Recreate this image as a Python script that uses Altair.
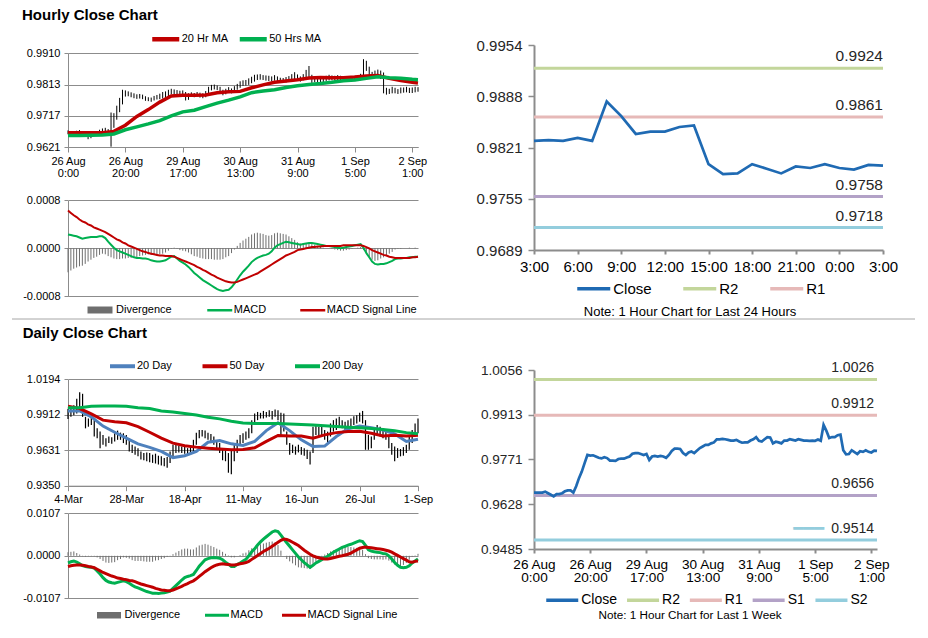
import json
import pandas as pd
import altair as alt

# ---------------- tick labels ----------------
hour_tick_values = [0, 20, 40, 60, 80, 100, 120]
hour_tick_labels = ["26 Aug|0:00", "26 Aug|20:00", "29 Aug|17:00", "30 Aug|13:00",
                    "31 Aug|9:00", "1 Sep|5:00", "2 Sep|1:00"]
last24_tick_values = [0, 3, 6, 9, 12, 15, 18, 21, 24]
last24_tick_labels = ["3:00", "6:00", "9:00", "12:00", "15:00", "18:00", "21:00", "0:00", "3:00"]
day_tick_values = [0, 20, 40, 60, 80, 100, 120]
day_tick_labels = ["4-Mar", "28-Mar", "18-Apr", "11-May", "16-Jun", "26-Jul", "1-Sep"]

hour_price_ticks = [0.9621, 0.9717, 0.9813, 0.9910]
hour_macd_ticks = [-0.0008, 0.0, 0.0008]
last24_ticks = [0.9689, 0.9755, 0.9821, 0.9888, 0.9954]
week_ticks = [0.9485, 0.9628, 0.9771, 0.9913, 1.0056]
day_price_ticks = [0.9350, 0.9631, 0.9912, 1.0194]
day_macd_ticks = [-0.0107, 0.0, 0.0107]

# ---------------- hourly data (26 Aug 0:00 .. 2 Sep 3:00) ----------------
hour_close = [
    0.9665, 0.9665, 0.9665, 0.9665, 0.9668, 0.9663, 0.9658, 0.9653, 0.9660, 0.9660,
    0.9663, 0.9669, 0.9672, 0.9672, 0.9665, 0.9685, 0.9711, 0.9732, 0.9759, 0.9785,
    0.9783, 0.9784, 0.9780, 0.9776, 0.9774, 0.9778, 0.9775, 0.9767, 0.9767, 0.9766,
    0.9772, 0.9773, 0.9773, 0.9777, 0.9780, 0.9789, 0.9791, 0.9791, 0.9788, 0.9785,
    0.9788, 0.9769, 0.9780, 0.9782, 0.9780, 0.9782, 0.9780, 0.9776, 0.9785, 0.9798,
    0.9805, 0.9805, 0.9804, 0.9791, 0.9785, 0.9793, 0.9796, 0.9791, 0.9799, 0.9807,
    0.9812, 0.9817, 0.9817, 0.9822, 0.9825, 0.9835, 0.9835, 0.9836, 0.9835, 0.9833,
    0.9831, 0.9831, 0.9833, 0.9828, 0.9824, 0.9825, 0.9825, 0.9831, 0.9835, 0.9842,
    0.9830, 0.9828, 0.9835, 0.9842, 0.9841, 0.9822, 0.9827, 0.9825, 0.9822, 0.9831,
    0.9831, 0.9835, 0.9833, 0.9831, 0.9835, 0.9833, 0.9831, 0.9831, 0.9830, 0.9831,
    0.9830, 0.9834, 0.9830, 0.9881, 0.9862, 0.9839, 0.9842, 0.9842, 0.9848, 0.9850,
    0.9800, 0.9787, 0.9788, 0.9800, 0.9794, 0.9788, 0.9797, 0.9795, 0.9800, 0.9795,
    0.9793, 0.9799, 0.9798,
]
hour_high = [
    0.9672, 0.9670, 0.9669, 0.9671, 0.9673, 0.9669, 0.9665, 0.9661, 0.9664, 0.9666,
    0.9668, 0.9674, 0.9678, 0.9680, 0.9676, 0.9727, 0.9725, 0.9748, 0.9772, 0.9797,
    0.9795, 0.9792, 0.9789, 0.9786, 0.9783, 0.9784, 0.9782, 0.9777, 0.9774, 0.9773,
    0.9778, 0.9781, 0.9785, 0.9790, 0.9792, 0.9797, 0.9800, 0.9798, 0.9796, 0.9794,
    0.9795, 0.9790, 0.9786, 0.9789, 0.9787, 0.9790, 0.9788, 0.9786, 0.9793, 0.9806,
    0.9812, 0.9813, 0.9810, 0.9806, 0.9797, 0.9800, 0.9805, 0.9801, 0.9808, 0.9815,
    0.9823, 0.9826, 0.9827, 0.9832, 0.9837, 0.9843, 0.9844, 0.9845, 0.9842, 0.9841,
    0.9840, 0.9838, 0.9842, 0.9838, 0.9834, 0.9833, 0.9836, 0.9839, 0.9845, 0.9851,
    0.9844, 0.9838, 0.9845, 0.9858, 0.9870, 0.9843, 0.9836, 0.9834, 0.9831, 0.9839,
    0.9840, 0.9843, 0.9841, 0.9840, 0.9842, 0.9840, 0.9839, 0.9838, 0.9838, 0.9839,
    0.9840, 0.9841, 0.9846, 0.9891, 0.9886, 0.9868, 0.9852, 0.9856, 0.9859, 0.9856,
    0.9850, 0.9803, 0.9800, 0.9806, 0.9803, 0.9799, 0.9804, 0.9804, 0.9806, 0.9803,
    0.9804, 0.9806, 0.9805,
]
hour_low = [
    0.9660, 0.9658, 0.9661, 0.9660, 0.9662, 0.9657, 0.9652, 0.9645, 0.9648, 0.9654,
    0.9657, 0.9661, 0.9665, 0.9664, 0.9658, 0.9622, 0.9680, 0.9705, 0.9728, 0.9752,
    0.9776, 0.9777, 0.9774, 0.9771, 0.9769, 0.9770, 0.9768, 0.9763, 0.9762, 0.9760,
    0.9764, 0.9767, 0.9768, 0.9770, 0.9772, 0.9776, 0.9783, 0.9782, 0.9779, 0.9777,
    0.9780, 0.9764, 0.9766, 0.9775, 0.9774, 0.9776, 0.9773, 0.9771, 0.9774, 0.9783,
    0.9795, 0.9798, 0.9796, 0.9787, 0.9780, 0.9783, 0.9789, 0.9786, 0.9789, 0.9797,
    0.9803, 0.9809, 0.9810, 0.9812, 0.9817, 0.9822, 0.9827, 0.9828, 0.9827, 0.9825,
    0.9824, 0.9823, 0.9825, 0.9822, 0.9818, 0.9819, 0.9819, 0.9822, 0.9827, 0.9830,
    0.9825, 0.9822, 0.9826, 0.9832, 0.9834, 0.9818, 0.9820, 0.9819, 0.9816, 0.9820,
    0.9824, 0.9826, 0.9826, 0.9825, 0.9827, 0.9826, 0.9825, 0.9824, 0.9823, 0.9824,
    0.9824, 0.9826, 0.9826, 0.9829, 0.9855, 0.9835, 0.9834, 0.9835, 0.9838, 0.9830,
    0.9786, 0.9782, 0.9784, 0.9786, 0.9786, 0.9784, 0.9786, 0.9788, 0.9789, 0.9787,
    0.9787, 0.9789, 0.9791,
]
hour_macd = [
    0.00023, 0.00022, 0.00021, 0.00020, 0.00018, 0.00016, 0.00017, 0.00018, 0.00019, 0.00019,
    0.00019, 0.00020, 0.00020, 0.00017, 0.00011, 0.00006, 0.00001, -0.00003, -0.00005, -0.00007,
    -0.00009, -0.00011, -0.00013, -0.00015, -0.00016, -0.00016, -0.00017, -0.00017, -0.00018, -0.00020,
    -0.00021, -0.00022, -0.00022, -0.00021, -0.00020, -0.00017, -0.00014, -0.00013, -0.00017, -0.00021,
    -0.00024, -0.00027, -0.00031, -0.00036, -0.00041, -0.00045, -0.00049, -0.00053, -0.00056, -0.00059,
    -0.00062, -0.00065, -0.00068, -0.00070, -0.00071, -0.00070, -0.00069, -0.00065, -0.00059, -0.00052,
    -0.00045, -0.00039, -0.00034, -0.00029, -0.00023, -0.00019, -0.00016, -0.00014, -0.00012, -0.00011,
    -0.00009, -0.00005, 0.00001, 0.00005, 0.00007, 0.00009, 0.00011, 0.00010, 0.00009, 0.00008,
    0.00007, 0.00006, 0.00007, 0.00008, 0.00009, 0.00009, 0.00008, 0.00007, 0.00006, 0.00005,
    0.00004, 0.00004, 0.00003, 0.00002, 0.00001, 0.00000, 0.00001, 0.00002, 0.00003, 0.00004,
    0.00005, 0.00006, 0.00007, 0.00001, -0.00008, -0.00015, -0.00022, -0.00026, -0.00027, -0.00026,
    -0.00026, -0.00025, -0.00023, -0.00021, -0.00018, -0.00017, -0.00017, -0.00016, -0.00016, -0.00015,
    -0.00015, -0.00014, -0.00014,
]
hour_signal = [
    0.00063, 0.00059, 0.00055, 0.00052, 0.00048, 0.00045, 0.00043, 0.00040, 0.00038, 0.00035,
    0.00033, 0.00031, 0.00029, 0.00027, 0.00024, 0.00021, 0.00018, 0.00015, 0.00013, 0.00010,
    0.00008, 0.00005, 0.00003, 0.00001, -0.00001, -0.00003, -0.00005, -0.00006, -0.00008, -0.00009,
    -0.00010, -0.00011, -0.00012, -0.00012, -0.00013, -0.00013, -0.00013, -0.00014, -0.00016, -0.00018,
    -0.00020, -0.00022, -0.00024, -0.00026, -0.00028, -0.00031, -0.00033, -0.00036, -0.00038, -0.00041,
    -0.00044, -0.00046, -0.00049, -0.00051, -0.00053, -0.00055, -0.00056, -0.00057, -0.00057, -0.00056,
    -0.00054, -0.00052, -0.00050, -0.00048, -0.00046, -0.00044, -0.00042, -0.00039, -0.00036, -0.00033,
    -0.00030, -0.00027, -0.00024, -0.00021, -0.00018, -0.00015, -0.00012, -0.00010, -0.00008, -0.00006,
    -0.00003, -0.00002, -0.00001, 0.00000, 0.00001, 0.00002, 0.00002, 0.00003, 0.00003, 0.00004,
    0.00004, 0.00004, 0.00004, 0.00004, 0.00004, 0.00004, 0.00005, 0.00005, 0.00005, 0.00005,
    0.00005, 0.00005, 0.00005, 0.00004, 0.00002, 0.00000, -0.00003, -0.00005, -0.00007, -0.00009,
    -0.00011, -0.00012, -0.00014, -0.00015, -0.00016, -0.00016, -0.00016, -0.00016, -0.00016, -0.00016,
    -0.00015, -0.00015, -0.00014,
]
hour_ma_idx = [0, 4, 8, 12, 16, 20, 24, 28, 32, 36, 40, 44, 48, 52, 56, 60,
               64, 68, 72, 76, 80, 84, 88, 92, 96, 100, 104, 108, 112, 116, 120, 122]
hour_ma20 = [0.9665, 0.9665, 0.9665, 0.9665, 0.9669, 0.9688, 0.9715, 0.9736, 0.9759, 0.9778,
             0.9780, 0.9780, 0.9781, 0.9788, 0.9791, 0.9792, 0.9803, 0.9812, 0.9820, 0.9824,
             0.9828, 0.9833, 0.9835, 0.9834, 0.9834, 0.9836, 0.9839, 0.9841, 0.9832, 0.9825,
             0.9820, 0.9818]
hour_ma50 = [0.9656, 0.9656, 0.9657, 0.9658, 0.9661, 0.9674, 0.9683, 0.9692, 0.9702, 0.9717,
             0.9729, 0.9734, 0.9745, 0.9756, 0.9765, 0.9775, 0.9788, 0.9793, 0.9797, 0.9804,
             0.9809, 0.9813, 0.9816, 0.9820, 0.9825, 0.9827, 0.9832, 0.9837, 0.9834, 0.9832,
             0.9829, 0.9828]

level_names = ["R2", "R1", "S1", "S2"]
levels_24h = [0.9924, 0.9861, 0.9758, 0.9718]
levels_week = [1.0026, 0.9912, 0.9656, 0.9514]

# ---------------- daily data (4-Mar .. 1-Sep) ----------------
day_high = [
    0.9960, 0.9975, 0.9988, 1.0040, 1.0092, 1.0079, 0.9896, 0.9883, 0.9896, 0.9870,
    0.9805, 0.9779, 0.9753, 0.9727, 0.9740, 0.9735, 0.9766, 0.9787, 0.9771, 0.9766,
    0.9753, 0.9727, 0.9675, 0.9661, 0.9648, 0.9622, 0.9609, 0.9614, 0.9609, 0.9596,
    0.9604, 0.9588, 0.9583, 0.9570, 0.9578, 0.9622, 0.9675, 0.9675, 0.9667, 0.9661,
    0.9656, 0.9648, 0.9661, 0.9714, 0.9771, 0.9792, 0.9792, 0.9787, 0.9771, 0.9761,
    0.9740, 0.9701, 0.9688, 0.9648, 0.9630, 0.9609, 0.9635, 0.9675, 0.9714, 0.9753,
    0.9766, 0.9779, 0.9805, 0.9870, 0.9922, 0.9935, 0.9928, 0.9943, 0.9935, 0.9949,
    0.9943, 0.9954, 0.9949, 0.9928, 0.9922, 0.9779, 0.9688, 0.9675, 0.9661, 0.9675,
    0.9656, 0.9648, 0.9635, 0.9622, 0.9818, 0.9831, 0.9818, 0.9823, 0.9792, 0.9779,
    0.9844, 0.9870, 0.9883, 0.9896, 0.9870, 0.9857, 0.9870, 0.9883, 0.9901, 0.9909,
    0.9928, 0.9943, 0.9870, 0.9753, 0.9740, 0.9805, 0.9831, 0.9818, 0.9805, 0.9792,
    0.9753, 0.9688, 0.9661, 0.9648, 0.9641, 0.9656, 0.9675, 0.9753, 0.9792, 0.9844,
    0.9883,
]
day_low = [
    0.9880, 0.9896, 0.9909, 0.9922, 0.9935, 0.9896, 0.9805, 0.9818, 0.9831, 0.9740,
    0.9727, 0.9648, 0.9675, 0.9661, 0.9688, 0.9682, 0.9701, 0.9714, 0.9714, 0.9688,
    0.9675, 0.9622, 0.9609, 0.9596, 0.9583, 0.9557, 0.9552, 0.9544, 0.9536, 0.9531,
    0.9526, 0.9518, 0.9510, 0.9505, 0.9492, 0.9531, 0.9570, 0.9609, 0.9614, 0.9609,
    0.9604, 0.9596, 0.9609, 0.9622, 0.9675, 0.9727, 0.9740, 0.9727, 0.9714, 0.9701,
    0.9675, 0.9641, 0.9609, 0.9552, 0.9544, 0.9453, 0.9440, 0.9544, 0.9609, 0.9675,
    0.9688, 0.9714, 0.9727, 0.9766, 0.9844, 0.9870, 0.9883, 0.9883, 0.9891, 0.9896,
    0.9875, 0.9896, 0.9870, 0.9740, 0.9779, 0.9675, 0.9596, 0.9609, 0.9596, 0.9614,
    0.9596, 0.9588, 0.9562, 0.9518, 0.9609, 0.9753, 0.9740, 0.9753, 0.9714, 0.9688,
    0.9740, 0.9779, 0.9792, 0.9818, 0.9805, 0.9792, 0.9805, 0.9818, 0.9831, 0.9844,
    0.9857, 0.9844, 0.9635, 0.9635, 0.9648, 0.9714, 0.9753, 0.9740, 0.9727, 0.9714,
    0.9648, 0.9596, 0.9544, 0.9570, 0.9583, 0.9588, 0.9609, 0.9635, 0.9688, 0.9740,
    0.9766,
]
day_macd = [
    -0.0018, -0.0015, -0.0013, -0.0016, -0.0020, -0.0025, -0.0027, -0.0028, -0.0029, -0.0031,
    -0.0038, -0.0046, -0.0055, -0.0062, -0.0066, -0.0068, -0.0069, -0.0067, -0.0065, -0.0063,
    -0.0065, -0.0069, -0.0074, -0.0078, -0.0081, -0.0084, -0.0087, -0.0090, -0.0092, -0.0094,
    -0.0094, -0.0095, -0.0094, -0.0093, -0.0091, -0.0089, -0.0082, -0.0075, -0.0068, -0.0061,
    -0.0055, -0.0052, -0.0050, -0.0047, -0.0037, -0.0026, -0.0018, -0.0010, -0.0007, -0.0005,
    -0.0004, -0.0005, -0.0006, -0.0010, -0.0016, -0.0021, -0.0027, -0.0027, -0.0022, -0.0018,
    -0.0013, -0.0009, 0.0000, 0.0010, 0.0018, 0.0027, 0.0035, 0.0042, 0.0048, 0.0054,
    0.0060, 0.0063, 0.0061, 0.0052, 0.0042, 0.0033, 0.0024, 0.0015, 0.0006, -0.0003,
    -0.0010, -0.0017, -0.0023, -0.0029, -0.0024, -0.0018, -0.0014, -0.0010, -0.0005, -0.0001,
    0.0004, 0.0009, 0.0013, 0.0017, 0.0021, 0.0024, 0.0027, 0.0029, 0.0032, 0.0035,
    0.0038, 0.0036, 0.0026, 0.0015, 0.0012, 0.0010, 0.0009, 0.0008, 0.0006, 0.0005,
    0.0000, -0.0008, -0.0017, -0.0024, -0.0029, -0.0030, -0.0029, -0.0025, -0.0018, -0.0013,
    -0.0008,
]
day_signal = [
    -0.0027, -0.0025, -0.0024, -0.0023, -0.0023, -0.0024, -0.0025, -0.0027, -0.0028, -0.0030,
    -0.0034, -0.0038, -0.0042, -0.0045, -0.0048, -0.0051, -0.0053, -0.0056, -0.0057, -0.0059,
    -0.0060, -0.0062, -0.0063, -0.0065, -0.0068, -0.0071, -0.0073, -0.0075, -0.0077, -0.0079,
    -0.0082, -0.0084, -0.0086, -0.0087, -0.0088, -0.0088, -0.0086, -0.0083, -0.0080, -0.0077,
    -0.0073, -0.0070, -0.0066, -0.0063, -0.0058, -0.0052, -0.0046, -0.0040, -0.0035, -0.0030,
    -0.0026, -0.0023, -0.0021, -0.0020, -0.0021, -0.0022, -0.0023, -0.0023, -0.0022, -0.0020,
    -0.0019, -0.0017, -0.0014, -0.0009, -0.0004, 0.0001, 0.0006, 0.0011, 0.0015, 0.0019,
    0.0024, 0.0029, 0.0034, 0.0039, 0.0042, 0.0041, 0.0038, 0.0034, 0.0030, 0.0026,
    0.0020, 0.0014, 0.0009, 0.0004, 0.0000, -0.0003, -0.0005, -0.0007, -0.0008, -0.0008,
    -0.0007, -0.0005, -0.0003, -0.0001, 0.0000, 0.0002, 0.0004, 0.0007, 0.0011, 0.0015,
    0.0019, 0.0021, 0.0022, 0.0021, 0.0020, 0.0019, 0.0018, 0.0017, 0.0016, 0.0014,
    0.0012, 0.0009, 0.0005, 0.0001, -0.0003, -0.0007, -0.0011, -0.0015, -0.0016, -0.0014,
    -0.0013,
]
day_ma_idx = [0, 4, 8, 12, 16, 20, 24, 28, 32, 36, 40, 44, 48, 52, 56, 60,
              64, 68, 72, 76, 80, 84, 88, 92, 96, 100, 104, 108, 112, 116, 120]
day_ma20 = [0.9943, 0.9943, 0.9896, 0.9823, 0.9774, 0.9727, 0.9682, 0.9654, 0.9622, 0.9573,
            0.9588, 0.9622, 0.9695, 0.9708, 0.9682, 0.9669, 0.9701, 0.9787, 0.9849, 0.9787,
            0.9714, 0.9661, 0.9664, 0.9740, 0.9802, 0.9823, 0.9810, 0.9792, 0.9761, 0.9701,
            0.9719]
day_ma50 = [0.9980, 0.9962, 0.9920, 0.9870, 0.9857, 0.9849, 0.9818, 0.9774, 0.9727, 0.9688,
            0.9667, 0.9656, 0.9648, 0.9641, 0.9635, 0.9638, 0.9651, 0.9701, 0.9748, 0.9745,
            0.9745, 0.9727, 0.9753, 0.9771, 0.9779, 0.9781, 0.9766, 0.9745, 0.9750, 0.9745,
            0.9750]
day_ma200 = [0.9969, 0.9969, 0.9980, 0.9982, 0.9982, 0.9980, 0.9969, 0.9962, 0.9943, 0.9935,
             0.9922, 0.9911, 0.9893, 0.9880, 0.9862, 0.9848, 0.9844, 0.9844, 0.9844, 0.9840,
             0.9836, 0.9831, 0.9826, 0.9820, 0.9814, 0.9810, 0.9803, 0.9795, 0.9785, 0.9771,
             0.9763]

# ---------------- styles ----------------
FONT = "Liberation Sans"
TXT = "#000000"
TXT2 = "#262626"
AX = "#8C8C8C"
RED = "#C00000"
GREEN = "#00B050"
BLUE20 = "#4F81BD"
CLOSE = "#1F6AB3"
R2C, R1C, S1C, S2C = "#C3D69B", "#E6B9B8", "#B3A2C7", "#93CDDD"
DIVC = "#6E6E6E"
SEP = "#A6A6A6"

W, H = 912, 616   # one canvas; every panel gets its own scales with explicit pixel ranges


def lab_expr(labels, step, multiline):
    e = "%s[round(datum.value / %d)]" % (json.dumps(labels), step)
    return "split(%s, '|')" % e if multiline else e


def sc(domain, r0, r1):
    return alt.Scale(domain=domain, range=[r0, r1], nice=False, zero=False)


def xaxis(values, expr, fs, lh, tick, pad, dw, at_y):
    return alt.Axis(values=values, labelExpr=expr, title=None, grid=False, orient="bottom",
                    offset=at_y - H, domainColor=AX, domainWidth=dw, tickColor=AX, tickWidth=dw,
                    tickSize=tick, labelPadding=pad, labelFont=FONT, labelFontSize=fs,
                    labelColor=TXT, labelLineHeight=lh, labelFlush=False, labelOverlap=False,
                    labelAngle=0)


def yaxis_left(values, at_x, minus=False):
    kw = dict(values=values, format=".4f", title=None, grid=True, gridColor=AX, gridWidth=1,
              orient="left", offset=-at_x, domainColor=AX, domainWidth=1, tickColor=AX,
              tickSize=4, labelPadding=4, labelFont=FONT, labelFontSize=11, labelColor=TXT,
              labelFlush=False, labelOverlap=False)
    if minus:
        kw["labelExpr"] = "replace(datum.label, '\u2212', '-')"
    return alt.Axis(**kw)


def yaxis_right(values, fs, at_x):
    return alt.Axis(values=values, format=".4f", title=None, grid=False, orient="left",
                    offset=-at_x, domainColor=AX, domainWidth=2, tickColor=AX, tickWidth=1.5,
                    tickSize=6, labelPadding=6, labelFont=FONT, labelFontSize=fs,
                    labelColor=TXT2, labelFlush=False, labelOverlap=False)


def leg(x_vis, cy, sym_w, sw, fs, offset, colpad, values=None):
    # x_vis: where the visible key line starts; the key slot is sym_w + sw wide
    kw = dict(orient="none", legendX=x_vis - sw / 2.0, legendY=cy - max(sym_w + sw, fs) / 2.0,
              direction="horizontal", title=None, symbolType="stroke",
              symbolSize=sym_w * sym_w, symbolStrokeWidth=sw, labelFont=FONT,
              labelFontSize=fs, labelColor=TXT, labelOffset=offset, columnPadding=colpad,
              padding=0)
    if values is not None:
        kw["values"] = values
    return alt.Legend(**kw)


def text_layer(txt, x, y, size, bold=False, align="left", baseline="alphabetic"):
    return alt.Chart(alt.Data(values=[{"t": txt}])).mark_text(
        font=FONT, fontSize=size, fontWeight="bold" if bold else "normal",
        align=align, baseline=baseline, color=TXT
    ).encode(x=alt.value(x), y=alt.value(y), text="t:N")


def sep_layer(x1, x2, y):
    return alt.Chart(alt.Data(values=[{"a": 1}])).mark_rule(color=SEP, strokeWidth=1).encode(
        x=alt.value(x1), x2=alt.value(x2), y=alt.value(y))


# ---------------- frames ----------------
NH = len(hour_close)
ND = len(day_high)
hdf = pd.DataFrame({"h": list(range(NH)), "close": hour_close, "high": hour_high,
                    "low": hour_low, "macd": hour_macd, "signal": hour_signal})
hma = pd.DataFrame({"h": hour_ma_idx * 2, "value": hour_ma20 + hour_ma50,
                    "series": ["20 Hr MA"] * len(hour_ma_idx) + ["50 Hrs MA"] * len(hour_ma_idx)})
hmacd = pd.DataFrame({"h": list(range(NH)) * 2, "value": hour_macd + hour_signal,
                      "series": ["MACD"] * NH + ["MACD Signal Line"] * NH})
ddf = pd.DataFrame({"i": list(range(ND)), "high": day_high, "low": day_low,
                    "macd": day_macd, "signal": day_signal})
dma = pd.DataFrame({"i": day_ma_idx * 3, "value": day_ma20 + day_ma50 + day_ma200,
                    "series": ["20 Day"] * len(day_ma_idx) + ["50 Day"] * len(day_ma_idx)
                    + ["200 Day"] * len(day_ma_idx)})
dmacd = pd.DataFrame({"i": list(range(ND)) * 2, "value": day_macd + day_signal,
                      "series": ["MACD"] * ND + ["MACD Signal Line"] * ND})
last24 = pd.DataFrame({"t": list(range(25)), "close": hour_close[-25:], "series": "Close"})
week = pd.DataFrame({"h": list(range(NH)), "close": hour_close, "series": "Close"})
lv24 = pd.DataFrame({"name": level_names, "value": levels_24h})
lvwk = pd.DataFrame({"name": level_names, "value": levels_week})

layers = []

# ---------------- hourly price (plot x 60-410, y 45-139) ----------------
xs_hp = sc([0, NH - 1], 60, 410)
ys_hp = sc([hour_price_ticks[0], hour_price_ticks[-1]], 139, 45)
layers.append(alt.Chart(hdf).mark_rule(color="black", strokeWidth=1).encode(
    x=alt.X("h:Q", scale=xs_hp,
            axis=xaxis(hour_tick_values, lab_expr(hour_tick_labels, 20, True), 11, 12, 5, 3, 1, 139)),
    y=alt.Y("low:Q", scale=ys_hp, axis=yaxis_left(hour_price_ticks, 60)),
    y2=alt.Y2("high")))
layers.append(alt.Chart(hma).mark_line(strokeWidth=3.5).encode(
    x=alt.X("h:Q", scale=xs_hp, axis=None),
    y=alt.Y("value:Q", scale=ys_hp, axis=None),
    color=alt.Color("series:N", scale=alt.Scale(domain=["20 Hr MA", "50 Hrs MA"], range=[RED, GREEN]),
                    legend=leg(144, 31, 27, 4.5, 11, 0, 1.5))))
layers.append(text_layer("Hourly Close Chart", 14, 12, 15, bold=True))

# ---------------- hourly MACD (plot y 192.3-288.3) ----------------
xs_hm = sc([0, NH - 1], 60, 410)
ys_hm = sc([hour_macd_ticks[0], hour_macd_ticks[-1]], 288.3, 192.3)
layers.append(alt.Chart(hdf).transform_calculate(
    div="datum.macd - datum.signal", zero="0", lab="'Divergence'"
).mark_rule(strokeWidth=1).encode(
    x=alt.X("h:Q", scale=xs_hm, axis=None),
    y=alt.Y("div:Q", scale=ys_hm, axis=yaxis_left(hour_macd_ticks, 60, minus=True)),
    y2=alt.Y2("zero"),
    color=alt.Color("lab:N", scale=alt.Scale(domain=["Divergence"], range=[DIVC]),
                    legend=leg(79.5, 302, 25, 7, 11, 0, 1))))
layers.append(alt.Chart(hmacd).mark_line(strokeWidth=2).encode(
    x=alt.X("h:Q", scale=xs_hm, axis=None),
    y=alt.Y("value:Q", scale=ys_hm, axis=None),
    color=alt.Color("series:N", scale=alt.Scale(domain=["MACD", "MACD Signal Line"], range=[GREEN, RED]),
                    legend=leg(199, 302, 25, 2.5, 11, 0, 28))))

# ---------------- last 24 hours (plot x 526-875, y 37-242) ----------------
lvl_dom = ["Close", "R2", "R1", "S1", "S2"]
lvl_rng = [CLOSE, R2C, R1C, S1C, S2C]
xs_24 = sc([0, 24], 526, 875)
ys_24 = sc([last24_ticks[0], last24_ticks[-1]], 242, 37)
layers.append(alt.Chart(lv24).mark_rule(strokeWidth=3).encode(
    x=alt.XDatum(0, type="quantitative", scale=xs_24,
                 axis=xaxis(last24_tick_values, lab_expr(last24_tick_labels, 3, False), 15, 15, 4, 5, 2, 242)),
    x2=alt.X2Datum(24),
    y=alt.Y("value:Q", scale=ys_24, axis=yaxis_right(last24_ticks, 15, 526)),
    color=alt.Color("name:N", scale=alt.Scale(domain=lvl_dom, range=lvl_rng),
                    legend=leg(569, 280.3, 33, 3.5, 15, 1, 24, values=["Close", "R2", "R1"]))))
layers.append(alt.Chart(last24).mark_line(strokeWidth=2.7).encode(
    x=alt.X("t:Q", scale=xs_24, axis=None),
    y=alt.Y("close:Q", scale=ys_24, axis=None),
    color=alt.Color("series:N", scale=alt.Scale(domain=lvl_dom, range=lvl_rng), legend=None)))
layers.append(alt.Chart(lv24).mark_text(font=FONT, fontSize=15.5, align="right", baseline="middle",
                                        dy=-12, color=TXT2).encode(
    x=alt.XDatum(24, type="quantitative", scale=xs_24, axis=None),
    y=alt.Y("value:Q", scale=ys_24, axis=None),
    text=alt.Text("value:Q", format=".4f")))
layers.append(text_layer("Note: 1 Hour Chart for Last 24 Hours", 682, 303.7, 13,
                         align="center", baseline="middle"))
layers.append(sep_layer(4, 907, 311))

# ---------------- daily price (plot y 371.3-477.7) ----------------
xs_dp = sc([0, ND - 1], 60, 410)
ys_dp = sc([day_price_ticks[0], day_price_ticks[-1]], 477.7, 371.3)
layers.append(alt.Chart(ddf).mark_rule(color="black", strokeWidth=1.2).encode(
    x=alt.X("i:Q", scale=xs_dp,
            axis=xaxis(day_tick_values, lab_expr(day_tick_labels, 20, False), 11, 12, 5, 3, 1, 477.7)),
    y=alt.Y("low:Q", scale=ys_dp, axis=yaxis_left(day_price_ticks, 60)),
    y2=alt.Y2("high")))
layers.append(alt.Chart(dma).mark_line(strokeWidth=3).encode(
    x=alt.X("i:Q", scale=xs_dp, axis=None),
    y=alt.Y("value:Q", scale=ys_dp, axis=None),
    color=alt.Color("series:N", scale=alt.Scale(domain=["20 Day", "50 Day", "200 Day"],
                                                range=[BLUE20, RED, GREEN]),
                    legend=leg(102, 358, 25, 4, 11, 0, 22.5))))
layers.append(text_layer("Daily Close Chart", 14.7, 330.3, 15, bold=True))

# ---------------- daily MACD (plot y 505.3-590.3) ----------------
xs_dm = sc([0, ND - 1], 60, 410)
ys_dm = sc([day_macd_ticks[0], day_macd_ticks[-1]], 590.3, 505.3)
layers.append(alt.Chart(ddf).transform_calculate(
    div="datum.macd - datum.signal", zero="0", lab="'Divergence'"
).mark_rule(strokeWidth=1).encode(
    x=alt.X("i:Q", scale=xs_dm, axis=None),
    y=alt.Y("div:Q", scale=ys_dm, axis=yaxis_left(day_macd_ticks, 60, minus=True)),
    y2=alt.Y2("zero"),
    color=alt.Color("lab:N", scale=alt.Scale(domain=["Divergence"], range=[DIVC]),
                    legend=leg(88.75, 607, 24, 6.5, 11, 0, 1))))
layers.append(alt.Chart(dmacd).mark_line(strokeWidth=3).encode(
    x=alt.X("i:Q", scale=xs_dm, axis=None),
    y=alt.Y("value:Q", scale=ys_dm, axis=None),
    color=alt.Color("series:N", scale=alt.Scale(domain=["MACD", "MACD Signal Line"], range=[GREEN, RED]),
                    legend=leg(197, 607, 24, 3, 11, 0, 12))))

# ---------------- last week (plot x 526-869, y 362-541) ----------------
xs_wk = sc([0, NH - 1], 526, 869)
ys_wk = sc([week_ticks[0], week_ticks[-1]], 541, 362)
layers.append(alt.Chart(lvwk).mark_rule(strokeWidth=3).encode(
    x=alt.XDatum(0, type="quantitative", scale=xs_wk,
                 axis=xaxis(hour_tick_values, lab_expr(hour_tick_labels, 20, True), 13.6, 13.6, 4, 4, 2, 541)),
    x2=alt.X2Datum(NH - 1),
    y=alt.Y("value:Q", scale=ys_wk, axis=yaxis_right(week_ticks, 13.6, 526)),
    color=alt.Color("name:N", scale=alt.Scale(domain=lvl_dom, range=lvl_rng),
                    legend=leg(538, 592, 32, 3.5, 14, 1, 2.8))))
layers.append(alt.Chart(week).mark_line(strokeWidth=2.7).encode(
    x=alt.X("h:Q", scale=xs_wk, axis=None),
    y=alt.Y("close:Q", scale=ys_wk, axis=None),
    color=alt.Color("series:N", scale=alt.Scale(domain=lvl_dom, range=lvl_rng), legend=None)))
layers.append(alt.Chart(lvwk).mark_text(font=FONT, fontSize=14, align="right", baseline="middle",
                                        dx=-3, dy=-11, color=TXT2).encode(
    x=alt.XDatum(NH - 1, type="quantitative", scale=xs_wk, axis=None),
    y=alt.Y("value:Q", scale=ys_wk, axis=None),
    text=alt.Text("value:Q", format=".4f")))
layers.append(alt.Chart(lvwk).transform_filter("datum.name == 'S2'").mark_text(
    font="DejaVu Sans", fontSize=17, align="right", baseline="middle", dx=-53, dy=-11, color=S2C
).encode(
    x=alt.XDatum(NH - 1, type="quantitative", scale=xs_wk, axis=None),
    y=alt.Y("value:Q", scale=ys_wk, axis=None),
    text=alt.value("\u2501\u2501\u2501")))
layers.append(text_layer("Note: 1 Hour Chart for Last 1 Week", 682, 607, 11.7,
                         align="center", baseline="middle"))

chart = alt.layer(*layers).resolve_scale(
    x="independent", y="independent", color="independent"
).properties(
    width=W, height=H, padding=0, autosize="none", background="white"
).configure_view(stroke="transparent")

chart.save("out.html", embed_options={"renderer": "svg", "actions": False})
